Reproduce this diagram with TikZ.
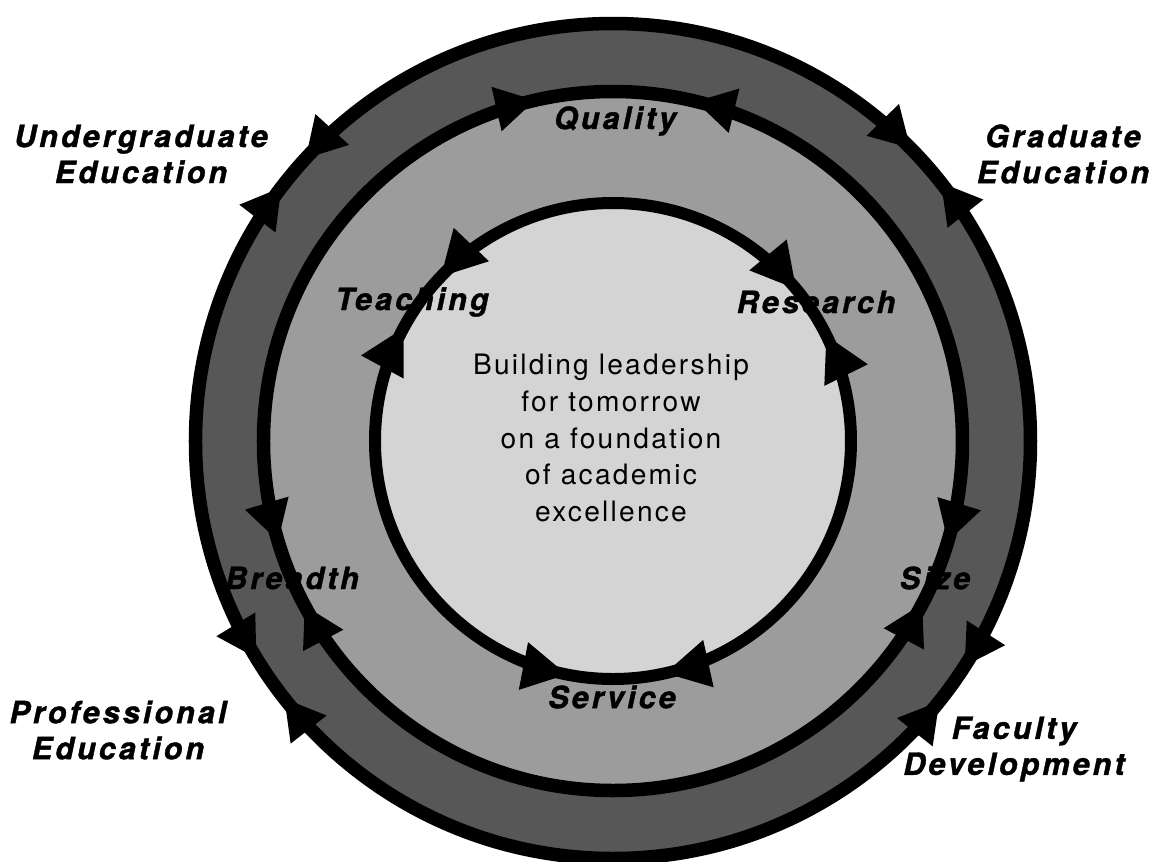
\documentclass[tikz,border=0pt]{standalone}
\usepackage{fontspec}
\setmainfont{TeX Gyre Heros}
\newfontfamily\ringfont{TeX Gyre Heros}[
    LetterSpace=10,
    BoldItalicFeatures={FakeBold=1.3}
]
\newfontfamily\corefont{TeX Gyre Heros}[LetterSpace=8]
\usepackage{tikz}
\usetikzlibrary{
arrows.meta
}
\definecolor{BandDark}{gray}{0.34}
\definecolor{BandMid}{gray}{0.61}
\definecolor{CoreLight}{gray}{0.83}

\begin{document}
\begin{tikzpicture}[
    x=1cm,
    y=1cm,
    ringline/.style={line width=0.27cm},
    coreline/.style={line width=0.24cm},
    ringtip/.style={
        line width=0.27cm,
        -{Triangle[length=0.8cm,width=0.85cm]}
    },
    coretip/.style={
        line width=0.24cm,
        -{Triangle[length=0.9cm,width=0.9cm]}
    },
    ringlabel/.style={
        align=center,
        inner sep=0pt,
        font=\ringfont\bfseries\itshape\fontsize{17.4}{20.5}\selectfont
    }
]

% Page frame
\fill[white] (-12.26,-8.4) rectangle (10.8,8.82);
\useasboundingbox (-12.26,-8.4) rectangle (10.8,8.82);

% =========================
% BANDS
% =========================
\fill[BandDark] (0,0) circle[radius=8.35];
\fill[BandMid] (0,0) circle[radius=6.99];
\fill[CoreLight] (0,0) circle[radius=4.76];

% =========================
% RING LINES
% =========================
\draw[ringline] (0,0) circle[radius=8.35];
\draw[ringline] (0,0) circle[radius=6.99];
\draw[coreline] (0,0) circle[radius=4.76];

% =========================
% OUTER RING ARROWS
% =========================
% Undergraduate Education
\draw[ringtip] (132:8.35) arc[start angle=132, end angle=137.5, radius=8.35];
\draw[ringtip] (148:8.35) arc[start angle=148, end angle=142.5, radius=8.35];
% Graduate Education
\draw[ringtip] (50:8.35) arc[start angle=50, end angle=44.5, radius=8.35];
\draw[ringtip] (32.8:8.35) arc[start angle=32.8, end angle=38.3, radius=8.35];
% Faculty Development
\draw[ringtip] (-27.3:8.35) arc[start angle=-27.3, end angle=-32.7, radius=8.35];
\draw[ringtip] (-44:8.35) arc[start angle=-44, end angle=-38.5, radius=8.35];
% Professional Education
\draw[ringtip] (206:8.35) arc[start angle=206, end angle=211.4, radius=8.35];
\draw[ringtip] (223.5:8.35) arc[start angle=223.5, end angle=218, radius=8.35];

% =========================
% MIDDLE RING ARROWS
% =========================
% Quality
\draw[ringtip] (109.4:6.99) arc[start angle=109.4, end angle=102.8, radius=6.99];
\draw[ringtip] (69.8:6.99) arc[start angle=69.8, end angle=76.4, radius=6.99];
% Breadth
\draw[ringtip] (190:6.99) arc[start angle=190, end angle=196.7, radius=6.99];
\draw[ringtip] (214.7:6.99) arc[start angle=214.7, end angle=208, radius=6.99];
% Size
\draw[ringtip] (-10.2:6.99) arc[start angle=-10.2, end angle=-16.8, radius=6.99];
\draw[ringtip] (-34.3:6.99) arc[start angle=-34.3, end angle=-27.7, radius=6.99];

% =========================
% INNER RING ARROWS
% =========================
% Teaching
\draw[coretip] (126:4.76) arc[start angle=126, end angle=136.5, radius=4.76];
\draw[coretip] (162:4.76) arc[start angle=162, end angle=151.5, radius=4.76];
% Research
\draw[coretip] (50:4.76) arc[start angle=50, end angle=39.5, radius=4.76];
\draw[coretip] (16:4.76) arc[start angle=16, end angle=26.5, radius=4.76];
% Service
\draw[coretip] (-111:4.76) arc[start angle=-111, end angle=-101, radius=4.76];
\draw[coretip] (-67:4.76) arc[start angle=-67, end angle=-77.5, radius=4.76];

% =========================
% LABELS
% =========================
\node[ringlabel] (undergrad) at (-9.44,5.74) {Undergraduate\\Education};
\node[ringlabel] (graduate) at (9.0,5.74) {Graduate\\Education};
\node[ringlabel] (professional) at (-9.9,-5.78) {Professional\\Education};
\node[ringlabel] (faculty) at (8.02,-6.16) {Faculty\\Development};

\node[ringlabel] (quality) at (0.04,6.4) {Quality};
\node[ringlabel] (breadth) at (-6.42,-2.74) {Breadth};
\node[ringlabel] (size) at (6.44,-2.74) {Size};

\node[ringlabel] (teaching) at (-4.02,2.78) {Teaching};
\node[ringlabel] (research) at (4.06,2.78) {Research};
\node[ringlabel] (service) at (-0.02,-5.12) {Service};

% Centre statement
\node[
    align=center,
    inner sep=0pt,
    font=\corefont\fontsize{16}{20.9}\selectfont
]
(motto) at (-0.04,0.06)
{Building leadership\\for tomorrow\\on a foundation\\of academic\\excellence};

\end{tikzpicture}
\end{document}
